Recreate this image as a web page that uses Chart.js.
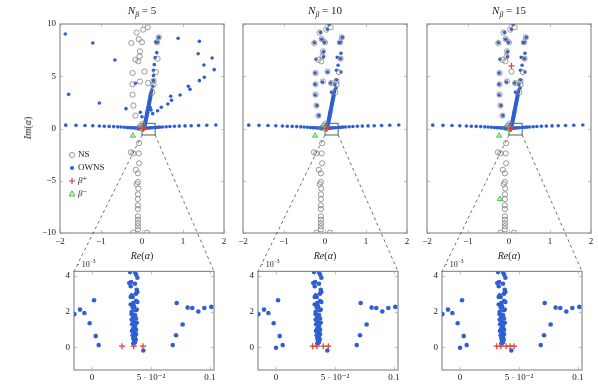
<!DOCTYPE html>
<html><head><meta charset="utf-8">
<script src="https://cdn.jsdelivr.net/npm/chart.js@4.4.0/dist/chart.umd.min.js"></script>
<style>
html,body{margin:0;padding:0;background:#fff;}
#wrap{position:relative;width:598px;height:385px;overflow:hidden;font-family:"Liberation Serif","DejaVu Serif",serif;color:#222;}
#wrap canvas{position:absolute;}
.lbl{position:absolute;white-space:nowrap;line-height:1;z-index:5;}
.lbl sub,.lbl sup{font-size:70%;line-height:0;}
</style></head><body><div id="wrap"></div>
<script>
// ---------------- data ----------------
const panelN = [5, 10, 15];
const topXTicks = [-2, -1, 0, 1, 2];
const topYTicks = [-10, -5, 0, 5, 10];
const zoomXTicks = [0, 0.05, 0.1];
const zoomYTicks = [0, 0.002, 0.004];

// NS eigenvalues (same reference in all panels)  [Re, Im]
const nsPoints = [
 [0.14,9.68],[0.03,9.46],[-0.13,9.18],[-0.08,8.56],[0.00,8.25],[-0.26,8.18],[0.37,8.25],[0.41,8.72],
 [-0.05,7.38],[-0.06,6.90],[-0.16,6.58],[-0.09,6.43],[0.38,6.68],[0.34,5.40],[0.06,5.45],[-0.23,5.31],
 [-0.05,4.50],[0.15,4.35],[-0.23,4.23],[0.28,4.55],[0.28,4.19],[0.25,3.45],[-0.23,3.24],[-0.21,2.19],
 [-0.16,1.23],[0.01,0.45],[-0.03,0.25],[0.02,0.12],[-0.08,0.05],
 [-0.07,-1.40],[-0.27,-2.28],[-0.21,-2.38],[-0.08,-2.38],[-0.07,-3.33],[-0.15,-3.95],[-0.10,-4.29],
 [-0.10,-5.12],[-0.13,-5.32],[-0.09,-5.75],[-0.10,-6.30],[-0.10,-6.75],[-0.10,-7.35],[-0.10,-7.70],
 [-0.10,-8.40],[-0.10,-8.72],[-0.10,-9.05],[-0.10,-9.35],[-0.10,-9.65],[-0.21,-9.97],[0.12,-9.97]
];
// OWNS: near-real-axis row (all panels)
const owsRow = [
 [-1.86,0.32],[-1.61,0.30],[-1.39,0.28],[-1.20,0.26],[-1.04,0.24],[-0.92,0.22],[-0.80,0.20],[-0.69,0.18],
 [-0.59,0.16],[-0.51,0.14],[-0.43,0.12],[-0.36,0.10],[-0.30,0.08],[-0.25,0.07],[-0.20,0.06],[-0.16,0.05],
 [-0.12,0.04],[-0.09,0.03],[-0.06,0.02],[-0.03,0.02],[0.00,0.01],[0.03,0.02],[0.06,0.02],[0.09,0.03],
 [0.12,0.04],[0.16,0.05],[0.20,0.06],[0.25,0.07],[0.31,0.09],[0.37,0.11],[0.43,0.13],[0.50,0.15],
 [0.59,0.17],[0.68,0.19],[0.79,0.21],[0.91,0.23],[1.05,0.25],[1.20,0.27],[1.38,0.29],[1.58,0.31],[1.80,0.33]
];
// OWNS: dense branch leaving the origin (all panels)
const owsBranch = [
 [0.05,0.15],[0.07,0.15],[0.06,0.35],[0.08,0.35],[0.07,0.55],[0.09,0.55],[0.08,0.75],[0.10,0.75],
 [0.09,0.95],[0.11,0.95],[0.10,1.15],[0.12,1.15],[0.11,1.35],[0.13,1.35],[0.12,1.55],[0.14,1.55],
 [0.13,1.75],[0.15,1.75],[0.14,1.95],[0.16,1.95],[0.15,2.15],[0.17,2.15],[0.16,2.35],[0.18,2.35],
 [0.17,2.55],[0.19,2.55],[0.18,2.75],[0.20,2.75],[0.19,2.95],[0.21,2.95],[0.20,3.15],[0.22,3.15],
 [0.21,3.35],[0.23,3.50],[0.24,3.70]
];
// OWNS: remaining eigenvalues, per panel
const owsExtra5 = [
 [-1.87,9.04],[-1.20,8.18],[-0.66,6.55],[-1.79,3.27],[-1.04,2.44],[-0.39,1.90],[-0.16,4.32],[-0.04,1.55],[0.00,1.13],
 [0.41,8.72],[0.88,8.63],[1.40,8.34],[1.37,7.16],[1.71,6.75],[1.51,6.08],[1.76,5.63],[1.52,4.90],[1.40,4.58],
 [1.13,4.04],[1.17,3.75],[0.93,3.21],[0.70,3.08],[0.72,2.70],[0.63,2.34],[0.47,2.03],[0.38,1.70],[0.26,1.42],
 [0.26,4.04],[0.28,4.58],[0.28,5.06],[0.28,5.57],[0.30,6.11],[0.32,6.78],[0.36,7.26],[0.33,8.28],[0.37,8.26],
 [0.20,2.00],[0.22,1.77]
];
const owsExtra10 = [
 [0.10,9.94],[0.06,9.50],[-0.11,9.20],[-0.08,8.54],[-0.01,8.25],[-0.26,8.21],[0.42,8.72],[0.37,8.25],[0.34,8.20],
 [-0.04,7.35],[0.39,7.20],[-0.04,6.87],[-0.22,6.62],[0.30,6.81],[0.38,6.68],[0.32,6.05],[0.06,5.41],[-0.24,5.31],
 [0.28,5.57],[0.39,5.41],[-0.06,4.45],[0.14,4.35],[-0.24,4.23],[0.28,4.64],[0.24,4.19],[0.27,3.87],[0.16,3.48],
 [-0.24,3.21],[-0.20,2.19],[-0.15,1.23]
];
const owsExtra15 = [
 [0.10,9.94],[0.06,9.50],[-0.11,9.20],[-0.08,8.54],[-0.01,8.25],[-0.26,8.21],[0.42,8.72],[0.37,8.25],[0.34,8.20],
 [-0.04,7.35],[0.39,7.20],[-0.04,6.87],[-0.22,6.62],[0.30,6.81],[0.38,6.68],[0.32,6.05],[-0.24,5.31],
 [0.28,5.57],[0.39,5.41],[-0.06,4.45],[0.14,4.35],[-0.24,4.23],[0.28,4.64],[0.24,4.19],[0.27,3.87],[0.16,3.48],
 [-0.24,3.21],[-0.20,2.19],[-0.15,1.23]
];
// beta+ / beta- per panel
const betaPlus5  = [[0.0254,7e-5],[0.0353,7e-5],[0.0432,7e-5]];
const betaPlus10 = [[0.0311,7e-5],[0.0347,7e-5],[0.0401,7e-5],[0.0443,7e-5]];
const betaPlus15 = [[0.0311,7e-5],[0.0347,7e-5],[0.0390,7e-5],[0.0424,7e-5],[0.0458,7e-5],[0.06,6.0]];
const betaMinus5  = [[-0.22,-0.69],[0.00,-0.05]];
const betaMinus10 = [[-0.24,-0.69],[0.00,-0.02]];
const betaMinus15 = [[-0.24,-0.69],[0.00,-0.05],[-0.22,-6.75]];
// OWNS eigenvalues close to the origin (zoomed panels)
const zoomSide = [
 [-0.0150,1.85e-3],[-0.0102,2.11e-3],[-0.0065,1.92e-3],[-0.0020,1.35e-3],[0.0017,2.63e-3],[0.0031,0.63e-3],
 [0.0056,0.13e-3],[0.0435,-0.17e-3],[0.0684,0.13e-3],[0.0712,0.68e-3],[0.0718,2.48e-3],[0.0768,1.28e-3],
 [0.0810,2.22e-3],[0.0850,2.20e-3],[0.0901,2.00e-3],[0.0952,2.20e-3],[0.1011,2.26e-3]
];
const zoomColumn = [
 [0.0322,4.20e-3],[0.0364,4.20e-3],[0.0373,4.07e-3],[0.0384,3.89e-3],[0.0331,3.65e-3],[0.0364,3.55e-3],
 [0.0316,3.59e-3],[0.0328,3.41e-3],[0.0379,3.22e-3],[0.0384,3.09e-3],[0.0373,3.00e-3],[0.0336,2.91e-3],
 [0.0328,2.81e-3],[0.0345,2.81e-3],[0.0373,2.59e-3],[0.0384,2.53e-3],[0.0350,2.48e-3],[0.0328,2.39e-3],
 [0.0356,2.29e-3],[0.0345,2.22e-3],[0.0379,2.11e-3],[0.0336,1.98e-3],[0.0370,2.07e-3],[0.0336,1.85e-3],
 [0.0364,1.80e-3],[0.0350,1.70e-3],[0.0373,1.61e-3],[0.0336,1.55e-3],[0.0356,1.42e-3],[0.0379,1.37e-3],
 [0.0339,1.29e-3],[0.0364,1.18e-3],[0.0350,1.05e-3],[0.0373,0.99e-3],[0.0339,0.92e-3],[0.0359,0.81e-3],
 [0.0373,0.74e-3],[0.0345,0.68e-3],[0.0364,0.59e-3],[0.0350,0.50e-3],[0.0370,0.44e-3],[0.0356,0.37e-3],
 [0.0364,0.30e-3],[0.0350,0.22e-3],[0.0359,0.26e-3]
];
const zoomOrigin = [[0.0,-0.02e-3]];
const spyBox = {x0:0, x1:0.32, y0:-0.62, y1:0.5};

// ---------------- styling / layout ----------------
const BLUE = '#2f5fd0', GRAY = '#808080', RED = '#e23a3a', GREEN = '#2fc245', GREENFILL = 'rgba(150,230,150,0.55)';
const FONT = '"Liberation Serif","DejaVu Serif",serif';
const wrap = document.getElementById('wrap');
const topLeft = [60, 243, 427];
const botLeft = [74, 258, 442];
const pts = a => a.map(p => ({x:p[0], y:p[1]}));
const minus = v => String(v).replace('-', '\u2212');

const framePlugin = {
  id: 'frame',
  beforeDatasetsDraw(chart, args, opts) {
    const {ctx, chartArea: a, scales: {x, y}} = chart;
    ctx.save();
    ctx.strokeStyle = '#b4b4b4'; ctx.lineWidth = 0.8;
    ctx.beginPath();
    x.ticks.forEach(t => { const p = Math.round(x.getPixelForValue(t.value)) + 0.5;
      ctx.moveTo(p, a.bottom); ctx.lineTo(p, a.bottom - 3); ctx.moveTo(p, a.top); ctx.lineTo(p, a.top + 3); });
    y.ticks.forEach(t => { const p = Math.round(y.getPixelForValue(t.value)) + 0.5;
      ctx.moveTo(a.left, p); ctx.lineTo(a.left + 3, p); ctx.moveTo(a.right, p); ctx.lineTo(a.right - 3, p); });
    ctx.stroke();
    ctx.strokeStyle = '#8e8e8e'; ctx.lineWidth = 1.2;
    ctx.strokeRect(a.left, a.top, a.right - a.left, a.bottom - a.top);
    if (opts.box) {
      const b = opts.box;
      const x0 = x.getPixelForValue(b.x0), x1 = x.getPixelForValue(b.x1);
      const y0 = y.getPixelForValue(b.y0), y1 = y.getPixelForValue(b.y1);
      ctx.strokeStyle = '#333'; ctx.lineWidth = 0.8;
      ctx.strokeRect(x0, y1, x1 - x0, y0 - y1);
    }
    ctx.restore();
  },
  afterDraw(chart, args, opts) {
    if (!opts.legend) return;
    const {ctx, chartArea: a} = chart;
    const mx = a.left + 12, tx = a.left + 18;
    const rows = [a.top + 131, a.top + 144, a.top + 157, a.top + 170];
    ctx.save();
    ctx.lineWidth = 0.8;
    // NS
    ctx.strokeStyle = GRAY; ctx.beginPath(); ctx.arc(mx, rows[0], 2.6, 0, Math.PI*2); ctx.stroke();
    // OWNS
    ctx.fillStyle = BLUE; ctx.beginPath(); ctx.arc(mx, rows[1], 2, 0, Math.PI*2); ctx.fill();
    // beta+
    ctx.strokeStyle = RED; ctx.lineWidth = 1.2; ctx.beginPath();
    ctx.moveTo(mx-3, rows[2]); ctx.lineTo(mx+3, rows[2]); ctx.moveTo(mx, rows[2]-3); ctx.lineTo(mx, rows[2]+3); ctx.stroke();
    // beta-
    ctx.lineWidth = 0.9; ctx.strokeStyle = GREEN; ctx.fillStyle = GREENFILL; ctx.beginPath();
    ctx.moveTo(mx, rows[3]-3.2); ctx.lineTo(mx+3, rows[3]+2); ctx.lineTo(mx-3, rows[3]+2); ctx.closePath(); ctx.fill(); ctx.stroke();
    ctx.fillStyle = '#222'; ctx.textBaseline = 'middle';
    ctx.font = '9px ' + FONT;
    ctx.fillText('NS', tx, rows[0]);
    ctx.fillText('OWNS', tx, rows[1]);
    ctx.font = 'italic 9px ' + FONT;
    ctx.fillText('\u03b2\u207a', tx, rows[2]);
    ctx.fillText('\u03b2\u207b', tx, rows[3]);
    ctx.restore();
  }
};

function makeCanvas(left, top, w, h) {
  const c = document.createElement('canvas');
  c.width = w; c.height = h;
  c.style.left = left + 'px'; c.style.top = top + 'px';
  c.style.width = w + 'px'; c.style.height = h + 'px';
  wrap.appendChild(c);
  return c;
}
function addLabel(html, left, top, size, extra) {
  const d = document.createElement('div');
  d.className = 'lbl';
  d.innerHTML = html;
  d.style.left = left + 'px'; d.style.top = top + 'px'; d.style.fontSize = size + 'px';
  if (extra) Object.assign(d.style, extra);
  wrap.appendChild(d);
  return d;
}

function ds(label, data, style, order) {
  return Object.assign({label, data: pts(data), order, showLine: false}, style);
}
const nsStyle = {pointStyle:'circle', pointRadius:2.6, borderWidth:0.8, borderColor:GRAY, backgroundColor:'rgba(0,0,0,0)'};
const owsStyleTop = {pointStyle:'circle', pointRadius:1.8, borderWidth:0, borderColor:BLUE, backgroundColor:BLUE};
const owsStyleBot = {pointStyle:'circle', pointRadius:2.3, borderWidth:0, borderColor:BLUE, backgroundColor:BLUE};
const bpStyle = {pointStyle:'cross', pointRadius:3, borderWidth:1.2, borderColor:RED, backgroundColor:RED};
const bmStyle = {pointStyle:'triangle', pointRadius:3, borderWidth:0.9, borderColor:GREEN, backgroundColor:GREENFILL};

const owsExtras = [owsExtra5, owsExtra10, owsExtra15];
const betaPlus = [betaPlus5, betaPlus10, betaPlus15];
const betaMinus = [betaMinus5, betaMinus10, betaMinus15];

const topCharts = [], botCharts = [], topCanv = [], botCanv = [];
panelN.forEach((n, i) => {
  // ---- overview panel ----
  const L = topLeft[i];
  const cv = makeCanvas(L - 30, 14, 202, 236);
  topCanv.push({left: L - 30, top: 14});
  topCharts.push(new Chart(cv, {
    type: 'scatter',
    data: {datasets: [
      ds('NS', nsPoints, nsStyle, 2),
      ds('OWNS', owsRow.concat(owsBranch, owsExtras[i]), owsStyleTop, 3),
      ds('\u03b2+', betaPlus[i], bpStyle, 0),
      ds('\u03b2-', betaMinus[i], bmStyle, 1)
    ]},
    options: {
      responsive: false, animation: false, devicePixelRatio: 1, events: [],
      layout: {padding: {top: 10, right: 8, left: 0, bottom: 0}},
      plugins: {legend: {display: false}, tooltip: {enabled: false},
        frame: {box: spyBox, legend: i === 0}},
      scales: {
        x: {type: 'linear', min: -2, max: 2,
          grid: {display: false, drawTicks: false}, border: {display: false},
          afterBuildTicks: s => { s.ticks = topXTicks.map(v => ({value: v})); },
          afterFit: s => { s.height = 17; },
          ticks: {autoSkip: false, maxRotation: 0, padding: 3, color: '#222', font: {family: FONT, size: 9}, callback: v => minus(v)}},
        y: {type: 'linear', min: -10, max: 10,
          grid: {display: false, drawTicks: false}, border: {display: false},
          afterBuildTicks: s => { s.ticks = topYTicks.map(v => ({value: v})); },
          afterFit: s => { s.width = 30; },
          ticks: {display: i === 0, autoSkip: false, padding: 4, color: '#222', font: {family: FONT, size: 9}, callback: v => minus(v)}}
      }
    },
    plugins: [framePlugin]
  }));

  // ---- zoomed panel ----
  const B = botLeft[i];
  const cb = makeCanvas(B - 20, 262, 168, 123);
  botCanv.push({left: B - 20, top: 262});
  const zoomOws = i === 0 ? zoomSide.concat(zoomColumn) : zoomSide.concat(zoomColumn, zoomOrigin);
  botCharts.push(new Chart(cb, {
    type: 'scatter',
    data: {datasets: [
      ds('OWNS', zoomOws, owsStyleBot, 3),
      ds('\u03b2+', betaPlus[i], bpStyle, 0),
      ds('\u03b2-', betaMinus[i], bmStyle, 1)
    ]},
    options: {
      responsive: false, animation: false, devicePixelRatio: 1, events: [],
      layout: {padding: {top: 9, right: 8, left: 0, bottom: 0}},
      plugins: {legend: {display: false}, tooltip: {enabled: false}, frame: {}},
      scales: {
        x: {type: 'linear', min: -0.0153, max: 0.1034,
          grid: {display: false, drawTicks: false}, border: {display: false},
          afterBuildTicks: s => { s.ticks = zoomXTicks.map(v => ({value: v})); },
          afterFit: s => { s.height = 15; },
          ticks: {autoSkip: false, maxRotation: 0, padding: 2, color: '#222', font: {family: FONT, size: 9},
            callback: v => Math.abs(v - 0.05) < 1e-9 ? '5 \u00b7 10\u207b\u00b2' : String(v)}},
        y: {type: 'linear', min: -0.00126, max: 0.00424,
          grid: {display: false, drawTicks: false}, border: {display: false},
          afterBuildTicks: s => { s.ticks = zoomYTicks.map(v => ({value: v})); },
          afterFit: s => { s.width = 20; },
          ticks: {autoSkip: false, padding: 4, color: '#222', font: {family: FONT, size: 9},
            callback: v => String(Math.round(v * 1000))}}
      }
    },
    plugins: [framePlugin]
  }));

  // ---- text labels ----
  const cx = L + 82;
  addLabel('<i>N</i><sub><i>\u03b2</i></sub> = ' + n, cx, 5, 11, {transform: 'translateX(-50%)'});
  addLabel('<i>Re</i>(<i>\u03b1</i>)', cx, 251, 10, {transform: 'translateX(-50%)'});
  addLabel('\u00b7 10<sup>\u22123</sup>', B + 3, 261, 8);
});
addLabel('<i>Im</i>(<i>\u03b1</i>)', 28, 128, 10, {transform: 'translate(-50%,-50%) rotate(-90deg)'});

// ---- dashed connectors from the spy box to the zoomed panels ----
const ov = makeCanvas(0, 0, 598, 385);
ov.style.zIndex = 4;
const octx = ov.getContext('2d');
octx.strokeStyle = '#333'; octx.lineWidth = 0.7; octx.setLineDash([3, 3]);
topCharts.forEach((tc, i) => {
  const bc = botCharts[i];
  const tx = topCanv[i], bx = botCanv[i];
  const yb = tx.top + tc.scales.y.getPixelForValue(spyBox.y0);
  const xl = tx.left + tc.scales.x.getPixelForValue(spyBox.x0);
  const xr = tx.left + tc.scales.x.getPixelForValue(spyBox.x1);
  const a = bc.chartArea;
  octx.beginPath();
  octx.moveTo(xl, yb); octx.lineTo(bx.left + a.left, bx.top + a.top);
  octx.moveTo(xr, yb); octx.lineTo(bx.left + a.right, bx.top + a.top);
  octx.stroke();
});
</script></body></html>
